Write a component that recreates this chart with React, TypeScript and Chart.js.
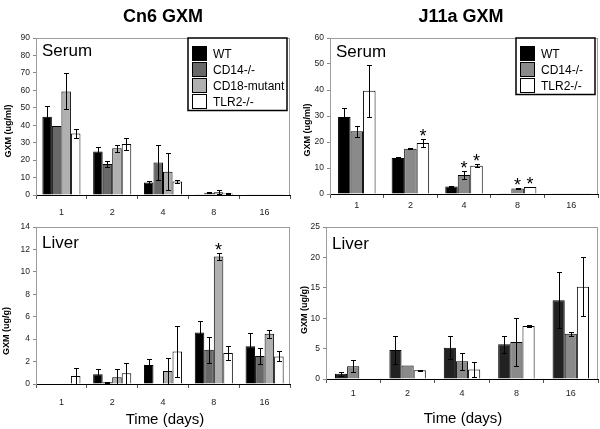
import React, { useEffect, useRef } from "react";
import { Chart, registerables } from "chart.js";
Chart.register(...registerables);

const FONT = "'Liberation Sans', Arial, Helvetica, sans-serif";

const days = ["1", "2", "4", "8", "16"];

// Cn6 GXM – serum (ug/ml)
const cn6SerumWT = [44.8, 24.9, 7.2, 0.5, 0.2];
const cn6SerumWTErr = [6, 2.4, 1.1, 0, 0];
const cn6SerumCD14 = [39.5, 17.8, 18.6, 1.3, 0.2];
const cn6SerumCD14Err = [0, 1.7, 10, 0.3, 0];
const cn6SerumCD18 = [59.4, 26.8, 13.3, 1.6, 0.2];
const cn6SerumCD18Err = [10.3, 1.9, 10.6, 1.3, 0];
const cn6SerumTLR2 = [35.3, 29.2, 7.8, 0.8, 0.2];
const cn6SerumTLR2Err = [2.5, 3.3, 0.8, 0.5, 0];

// J11a GXM – serum (ug/ml)
const j11SerumWT = [29.6, 13.8, 2.9, 0.3, 0.1];
const j11SerumWTErr = [3.5, 0.4, 0.2, 0, 0];
const j11SerumCD14 = [24.1, 17.4, 7.3, 2.1, 0.1];
const j11SerumCD14Err = [2, 0.2, 1.4, 0.3, 0];
const j11SerumTLR2 = [39.7, 19.6, 10.9, 2.7, 0.1];
const j11SerumTLR2Err = [9.9, 1.7, 0.7, 0.1, 0];

// Cn6 GXM – liver (ug/g)
const cn6LiverWT = [0, 0.87, 1.7, 4.6, 3.36];
const cn6LiverWTErr = [0, 0.45, 0.5, 1.0, 1.2];
const cn6LiverCD14 = [0, 0.15, 0, 3.06, 2.5];
const cn6LiverCD14Err = [0, 0.05, 0, 1.15, 0.7];
const cn6LiverCD18 = [0, 0.6, 1.17, 11.36, 4.47];
const cn6LiverCD18Err = [0, 0.7, 1.15, 0.28, 0.37];
const cn6LiverTLR2 = [0.72, 0.96, 2.9, 2.76, 2.46];
const cn6LiverTLR2Err = [0.7, 0.95, 2.3, 0.65, 0.45];

// J11a GXM – liver (ug/g)
const j11LiverWT = [0.88, 4.75, 5.13, 5.7, 12.97];
const j11LiverWTErr = [0.35, 2.3, 1.9, 1.4, 4.6];
const j11LiverCD14 = [2.1, 2.2, 2.9, 6.07, 7.45];
const j11LiverCD14Err = [1.0, 0, 1.4, 4, 0.35];
const j11LiverTLR2 = [0, 1.43, 1.55, 8.72, 15.18];
const j11LiverTLR2Err = [0, 0.1, 1.3, 0.2, 4.9];

type DS = { label: string; data: number[]; err: number[]; color: string };
type Panel = {
  key: string;
  left: number; top: number; width: number; height: number;
  area: { l: number; r: number; t: number; b: number };
  title?: string; titleX?: number; titleY?: number;
  yMax: number; yStep: number;
  yTitle: string; yTitleX: number; yTitleY: number;
  tag: string; tagDy: number;
  legend: boolean; legendW: number;
  xTitle?: string; xTitleX?: number; xTitleY?: number;
  catPct: number; xPad: number;
  datasets: DS[];
  stars: [number, number][];
};

const panels: Panel[] = [
  {
    key: "tl", left: 0, top: 0, width: 300, height: 225,
    area: { l: 36, r: 290, t: 38, b: 195 },
    title: "Cn6 GXM", titleX: 163, titleY: 17,
    yMax: 90, yStep: 10, yTitle: "GXM (ug/ml)", yTitleX: 9, yTitleY: 131,
    tag: "Serum", tagDy: 13, legend: true, legendW: 99,
    catPct: 0.75, xPad: 8,
    datasets: [
      { label: "WT", data: cn6SerumWT, err: cn6SerumWTErr, color: "#000000" },
      { label: "CD14-/-", data: cn6SerumCD14, err: cn6SerumCD14Err, color: "#686868" },
      { label: "CD18-mutant", data: cn6SerumCD18, err: cn6SerumCD18Err, color: "#b0b0b0" },
      { label: "TLR2-/-", data: cn6SerumTLR2, err: cn6SerumTLR2Err, color: "#ffffff" },
    ],
    stars: [],
  },
  {
    key: "tr", left: 300, top: 0, width: 300, height: 225,
    area: { l: 30, r: 298, t: 38, b: 194 },
    title: "J11a GXM", titleX: 161, titleY: 17,
    yMax: 60, yStep: 10, yTitle: "GXM (ug/ml)", yTitleX: 8, yTitleY: 130,
    tag: "Serum", tagDy: 14, legend: true, legendW: 79,
    catPct: 0.7, xPad: 2,
    datasets: [
      { label: "WT", data: j11SerumWT, err: j11SerumWTErr, color: "#000000" },
      { label: "CD14-/-", data: j11SerumCD14, err: j11SerumCD14Err, color: "#8a8a8a" },
      { label: "TLR2-/-", data: j11SerumTLR2, err: j11SerumTLR2Err, color: "#ffffff" },
    ],
    stars: [[2, 1], [1, 2], [2, 2], [1, 3], [2, 3]],
  },
  {
    key: "bl", left: 0, top: 212, width: 300, height: 217,
    area: { l: 36, r: 290, t: 15, b: 172 },
    yMax: 14, yStep: 2, yTitle: "GXM (ug/g)", yTitleX: 7, yTitleY: 119,
    tag: "Liver", tagDy: 16, legend: false, legendW: 0,
    xTitle: "Time (days)", xTitleX: 165, xTitleY: 208,
    catPct: 0.75, xPad: 9,
    datasets: [
      { label: "WT", data: cn6LiverWT, err: cn6LiverWTErr, color: "#000000" },
      { label: "CD14-/-", data: cn6LiverCD14, err: cn6LiverCD14Err, color: "#686868" },
      { label: "CD18-mutant", data: cn6LiverCD18, err: cn6LiverCD18Err, color: "#b0b0b0" },
      { label: "TLR2-/-", data: cn6LiverTLR2, err: cn6LiverTLR2Err, color: "#ffffff" },
    ],
    stars: [[2, 3]],
  },
  {
    key: "br", left: 300, top: 212, width: 300, height: 217,
    area: { l: 26, r: 298, t: 15, b: 167 },
    yMax: 25, yStep: 5, yTitle: "GXM (ug/g)", yTitleX: 5, yTitleY: 98,
    tag: "Liver", tagDy: 17, legend: false, legendW: 0,
    xTitle: "Time (days)", xTitleX: 163, xTitleY: 207,
    catPct: 0.67, xPad: 5,
    datasets: [
      { label: "WT", data: j11LiverWT, err: j11LiverWTErr, color: "#222222" },
      { label: "CD14-/-", data: j11LiverCD14, err: j11LiverCD14Err, color: "#8a8a8a" },
      { label: "TLR2-/-", data: j11LiverTLR2, err: j11LiverTLR2Err, color: "#ffffff" },
    ],
    stars: [],
  },
];

function makeDecor(p: Panel) {
  return {
    id: "decor_" + p.key,
    beforeDraw(chart: any) {
      const { ctx, chartArea: a } = chart;
      ctx.save();
      ctx.strokeStyle = "#9c9c9c";
      ctx.lineWidth = 1;
      ctx.strokeRect(a.left + 0.5, a.top + 0.5, a.right - a.left - 1, a.bottom - a.top);
      ctx.restore();
    },
    afterDatasetsDraw(chart: any) {
      const { ctx } = chart;
      const ys = chart.scales.y;
      ctx.save();
      ctx.strokeStyle = "#000";
      ctx.lineWidth = 1;
      p.datasets.forEach((ds, i) => {
        const meta = chart.getDatasetMeta(i);
        ds.data.forEach((v, j) => {
          const e = ds.err[j];
          if (!e) return;
          const x = Math.round(meta.data[j].x) + 0.5;
          const yt = Math.round(ys.getPixelForValue(v + e)) + 0.5;
          const yb = Math.round(ys.getPixelForValue(Math.max(0, v - e))) + 0.5;
          ctx.beginPath();
          ctx.moveTo(x, yt); ctx.lineTo(x, yb);
          ctx.moveTo(x - 2.5, yt); ctx.lineTo(x + 2.5, yt);
          ctx.moveTo(x - 2.5, yb); ctx.lineTo(x + 2.5, yb);
          ctx.stroke();
        });
      });
      ctx.fillStyle = "#000";
      ctx.font = `18px ${FONT}`;
      ctx.textAlign = "center";
      ctx.textBaseline = "alphabetic";
      p.stars.forEach(([i, j]) => {
        const ds = p.datasets[i];
        const meta = chart.getDatasetMeta(i);
        const x = meta.data[j].x;
        const yt = ys.getPixelForValue(ds.data[j] + ds.err[j]);
        ctx.fillText("*", x, yt + 3);
      });
      ctx.restore();
    },
    afterDraw(chart: any) {
      const { ctx, chartArea: a } = chart;
      ctx.save();
      ctx.fillStyle = "#000";
      ctx.font = `17px ${FONT}`;
      ctx.textAlign = "left";
      ctx.textBaseline = "middle";
      ctx.fillText(p.tag, a.left + 6, a.top + p.tagDy);
      if (p.legend) {
        const n = p.datasets.length;
        const h = 15.5 + (n - 1) * 16 + 9;
        const lx = a.right - 3 - p.legendW;
        const ly = a.top;
        ctx.fillStyle = "#fff";
        ctx.fillRect(lx, ly, p.legendW, h);
        ctx.strokeStyle = "#000";
        ctx.lineWidth = 1.5;
        ctx.strokeRect(lx, ly, p.legendW, h);
        ctx.font = `12px ${FONT}`;
        p.datasets.forEach((ds, i) => {
          const cy = ly + 15.5 + i * 16;
          ctx.fillStyle = ds.color;
          ctx.fillRect(lx + 4.5, cy - 7, 14, 14);
          ctx.strokeStyle = "#000";
          ctx.lineWidth = 1;
          ctx.strokeRect(lx + 4.5, cy - 7, 14, 14);
          ctx.fillStyle = "#000";
          ctx.textAlign = "left";
          ctx.textBaseline = "middle";
          ctx.fillText(ds.label, lx + 25, cy + 1);
        });
      }
      ctx.fillStyle = "#000";
      ctx.save();
      ctx.translate(p.yTitleX, p.yTitleY);
      ctx.rotate(-Math.PI / 2);
      ctx.font = `bold 9px ${FONT}`;
      ctx.textAlign = "center";
      ctx.textBaseline = "middle";
      ctx.fillText(p.yTitle, 0, 0);
      ctx.restore();
      if (p.title) {
        ctx.font = `bold 18px ${FONT}`;
        ctx.textAlign = "center";
        ctx.textBaseline = "middle";
        ctx.fillText(p.title, p.titleX!, p.titleY!);
      }
      if (p.xTitle) {
        ctx.font = `15px ${FONT}`;
        ctx.textAlign = "center";
        ctx.textBaseline = "middle";
        ctx.fillText(p.xTitle, p.xTitleX!, p.xTitleY!);
      }
      ctx.restore();
    },
  };
}

function PanelChart({ p }: { p: Panel }) {
  const ref = useRef<HTMLCanvasElement | null>(null);
  useEffect(() => {
    if (!ref.current) return;
    const yWidth = p.area.l;
    const xHeight = p.height - p.area.b;
    const chart = new Chart(ref.current, {
      type: "bar",
      data: {
        labels: days,
        datasets: p.datasets.map((d) => ({
          label: d.label,
          data: d.data,
          backgroundColor: d.color,
          borderColor: "#000",
          borderWidth: 1,
          categoryPercentage: p.catPct,
          barPercentage: 1,
        })),
      },
      options: {
        animation: false,
        responsive: false,
        devicePixelRatio: 1,
        layout: { padding: { top: p.area.t, right: p.width - p.area.r, left: 0, bottom: 0 } },
        plugins: { legend: { display: false }, tooltip: { enabled: false }, title: { display: false } },
        scales: {
          x: {
            offset: true,
            grid: { display: true, drawOnChartArea: false, drawTicks: true, tickLength: 4, color: "#555", offset: true },
            border: { display: true, color: "#000", width: 1 },
            ticks: { color: "#222", font: { family: FONT, size: 9 }, padding: p.xPad, maxRotation: 0 },
            afterFit: (s: any) => { s.height = xHeight; },
          },
          y: {
            min: 0,
            max: p.yMax,
            ticks: { stepSize: p.yStep, color: "#222", font: { family: FONT, size: 8.5 }, padding: 3 },
            grid: { display: true, drawOnChartArea: false, drawTicks: true, tickLength: 3, color: "#888" },
            border: { display: true, color: "#9c9c9c", width: 1 },
            afterFit: (s: any) => { s.width = yWidth; },
          },
        },
      },
      plugins: [makeDecor(p)],
    } as any);
    return () => chart.destroy();
  }, [p]);
  return (
    <canvas
      ref={ref}
      width={p.width}
      height={p.height}
      style={{ position: "absolute", left: p.left, top: p.top, width: p.width, height: p.height }}
    />
  );
}

export default function App() {
  return (
    <div style={{ position: "absolute", left: 0, top: 0, width: 600, height: 429, background: "#fff", overflow: "hidden" }}>
      {panels.map((p) => (
        <PanelChart key={p.key} p={p} />
      ))}
    </div>
  );
}
